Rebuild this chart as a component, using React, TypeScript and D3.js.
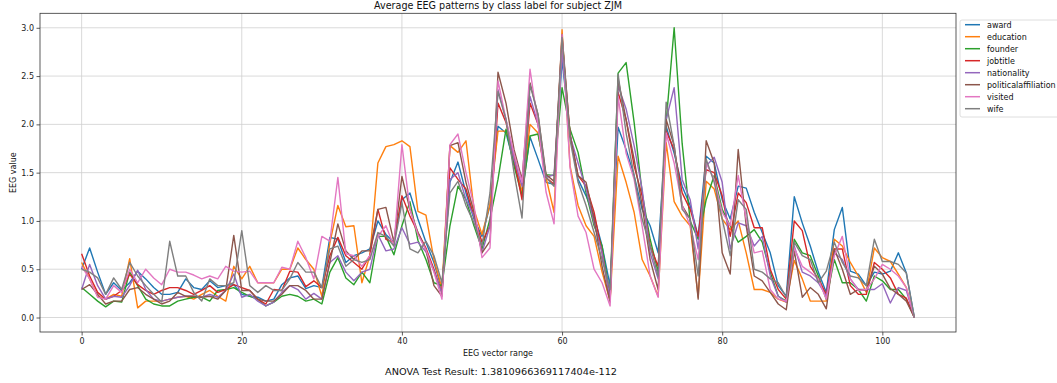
import React, { useRef, useEffect } from 'react';
import * as d3 from 'd3';

const seriesNames: string[] = ['award', 'education', 'founder', 'jobtitle', 'nationality', 'politicalaffiliation', 'visited', 'wife'];
const seriesColors: string[] = ['#1f77b4', '#ff7f0e', '#2ca02c', '#d62728', '#9467bd', '#8c564b', '#e377c2', '#7f7f7f'];

const award: number[] = [
    0.5, 0.72, 0.47, 0.24, 0.36, 0.28, 0.36, 0.48, 0.4, 0.31, 0.24, 0.24, 0.26, 0.4, 0.31, 0.29, 0.38, 0.31, 0.33, 0.34,
    0.24, 0.22, 0.21, 0.17, 0.19, 0.34, 0.41, 0.43, 0.3, 0.33, 0.31, 0.83, 0.81, 0.57, 0.64, 0.67, 0.71, 1.0, 0.86, 0.78,
    1.22, 1.29, 1.02, 0.78, 0.57, 0.29, 1.4, 1.61, 1.29, 1.02, 0.84, 1.16, 1.98, 1.91, 1.6, 1.29, 1.87, 1.64, 1.4, 1.38,
    2.67, 1.9, 1.43, 1.26, 1.05, 0.74, 0.33, 1.97, 1.74, 1.47, 1.12, 0.95, 0.67, 1.98, 1.7, 1.36, 1.16, 0.84, 1.67, 1.6,
    1.22, 1.02, 1.36, 1.34, 1.09, 0.88, 0.67, 0.33, 0.22, 1.25, 0.98, 0.74, 0.47, 0.26, 0.91, 1.14, 0.48, 0.45, 0.33, 0.47,
    0.45, 0.48, 0.67, 0.46, 0.0,
];
const education: number[] = [
    0.57, 0.4, 0.22, 0.19, 0.24, 0.22, 0.61, 0.1, 0.17, 0.17, 0.17, 0.19, 0.21, 0.22, 0.19, 0.24, 0.28, 0.22, 0.17, 0.53,
    0.4, 0.53, 0.36, 0.36, 0.36, 0.5, 0.5, 0.72, 0.6, 0.5, 0.22, 0.77, 1.16, 0.94, 0.95, 0.36, 0.64, 1.6, 1.77, 1.79,
    1.83, 1.77, 1.1, 1.06, 0.6, 0.3, 1.78, 1.71, 1.83, 1.12, 0.86, 1.17, 1.93, 1.93, 1.69, 1.29, 2.0, 1.91, 1.45, 1.09,
    2.98, 1.57, 1.16, 0.95, 0.84, 0.47, 0.17, 1.67, 1.4, 1.09, 0.6, 0.43, 0.22, 1.81, 1.2, 1.05, 0.95, 0.21, 1.41, 1.33,
    1.02, 0.91, 1.0, 0.67, 0.29, 0.29, 0.26, 0.19, 0.16, 0.59, 0.4, 0.17, 0.17, 0.17, 0.81, 0.74, 0.57, 0.43, 0.26, 0.72,
    0.62, 0.58, 0.45, 0.31, 0.0,
];
const founder: number[] = [
    0.31, 0.24, 0.17, 0.11, 0.17, 0.16, 0.47, 0.33, 0.19, 0.14, 0.12, 0.12, 0.17, 0.19, 0.21, 0.21, 0.17, 0.28, 0.29, 0.31,
    0.26, 0.22, 0.19, 0.12, 0.16, 0.22, 0.24, 0.22, 0.17, 0.19, 0.14, 0.47, 0.62, 0.41, 0.34, 0.47, 0.36, 0.84, 0.84, 0.65,
    0.95, 1.2, 0.8, 0.6, 0.36, 0.33, 0.95, 1.36, 1.22, 0.95, 0.71, 1.02, 1.43, 1.95, 1.57, 1.26, 1.88, 1.9, 1.48, 1.47,
    2.38, 1.95, 1.71, 1.29, 0.95, 0.74, 0.22, 2.53, 2.64, 2.02, 1.29, 0.81, 0.47, 2.02, 3.0, 1.8, 1.0, 0.81, 1.22, 1.47,
    1.12, 0.95, 0.78, 0.84, 0.91, 0.78, 0.47, 0.22, 0.17, 0.81, 0.67, 0.64, 0.43, 0.19, 0.6, 0.36, 0.36, 0.29, 0.17, 0.43,
    0.38, 0.29, 0.29, 0.19, 0.0,
];
const jobtitle: number[] = [
    0.66, 0.43, 0.26, 0.19, 0.22, 0.28, 0.45, 0.34, 0.28, 0.24, 0.28, 0.31, 0.31, 0.28, 0.24, 0.28, 0.33, 0.26, 0.29, 0.34,
    0.31, 0.28, 0.19, 0.14, 0.29, 0.28, 0.48, 0.47, 0.32, 0.38, 0.31, 0.64, 0.83, 0.64, 0.57, 0.5, 0.64, 1.12, 0.81, 0.78,
    1.26, 1.05, 0.88, 0.72, 0.5, 0.25, 1.55, 1.43, 1.33, 1.05, 0.78, 0.95, 2.22, 2.02, 1.64, 1.22, 2.22, 2.0, 1.45, 1.38,
    2.88, 1.9, 1.47, 1.36, 1.09, 0.67, 0.19, 2.33, 2.05, 1.57, 1.26, 0.74, 0.53, 1.93, 1.74, 1.29, 1.12, 0.84, 1.53, 1.5,
    1.26, 0.84, 1.29, 1.19, 0.93, 0.93, 0.5, 0.29, 0.19, 1.0, 0.9, 0.53, 0.4, 0.24, 0.71, 0.71, 0.33, 0.24, 0.24, 0.57,
    0.5, 0.41, 0.24, 0.2, 0.0,
];
const nationality: number[] = [
    0.29, 0.55, 0.33, 0.19, 0.22, 0.21, 0.33, 0.49, 0.29, 0.19, 0.17, 0.19, 0.21, 0.22, 0.22, 0.21, 0.24, 0.21, 0.28, 0.45,
    0.21, 0.24, 0.17, 0.12, 0.16, 0.26, 0.33, 0.29, 0.19, 0.25, 0.19, 0.57, 0.64, 0.47, 0.38, 0.47, 0.5, 0.86, 0.69, 0.71,
    0.93, 0.76, 0.78, 0.68, 0.48, 0.25, 1.43, 1.5, 1.22, 1.05, 0.67, 0.95, 2.36, 2.05, 1.64, 1.36, 2.29, 2.0, 1.45, 1.48,
    2.74, 1.88, 1.6, 1.33, 0.98, 0.67, 0.19, 2.4, 2.16, 1.78, 1.33, 0.67, 0.4, 2.05, 2.38, 1.43, 1.22, 0.71, 1.57, 1.66,
    1.4, 0.71, 0.98, 0.95, 0.74, 0.84, 0.43, 0.22, 0.16, 0.74, 0.47, 0.43, 0.36, 0.22, 0.67, 0.6, 0.4, 0.29, 0.29, 0.29,
    0.35, 0.15, 0.31, 0.28, 0.0,
];
const politicalaffiliation: number[] = [
    0.29, 0.34, 0.24, 0.14, 0.17, 0.17, 0.29, 0.31, 0.24, 0.19, 0.14, 0.17, 0.26, 0.22, 0.22, 0.21, 0.22, 0.19, 0.28, 0.85,
    0.28, 0.28, 0.19, 0.17, 0.17, 0.24, 0.33, 0.33, 0.28, 0.19, 0.19, 0.57, 0.97, 0.69, 0.6, 0.69, 0.69, 1.12, 1.14, 0.78,
    1.46, 1.12, 0.88, 0.7, 0.33, 0.22, 1.78, 1.81, 1.4, 1.09, 0.67, 0.79, 2.54, 2.22, 1.74, 1.43, 2.43, 2.1, 1.48, 1.41,
    2.93, 1.88, 1.47, 1.4, 1.02, 0.53, 0.16, 2.47, 2.05, 1.64, 1.16, 0.6, 0.29, 2.05, 1.78, 1.16, 1.02, 0.19, 1.83, 1.6,
    0.67, 0.45, 1.74, 0.95, 0.43, 0.38, 0.26, 0.14, 0.08, 0.69, 0.21, 0.31, 0.24, 0.09, 0.71, 0.5, 0.24, 0.29, 0.28, 0.53,
    0.45, 0.3, 0.24, 0.17, 0.0,
];
const visited: number[] = [
    0.53, 0.4, 0.21, 0.19, 0.33, 0.26, 0.5, 0.36, 0.5, 0.41, 0.34, 0.5, 0.47, 0.47, 0.44, 0.4, 0.43, 0.4, 0.53, 0.48,
    0.47, 0.48, 0.36, 0.36, 0.36, 0.52, 0.5, 0.79, 0.62, 0.4, 0.84, 0.79, 1.45, 0.66, 0.64, 0.53, 0.64, 0.84, 0.95, 0.74,
    1.79, 1.12, 0.86, 0.7, 0.47, 0.19, 1.79, 1.9, 1.5, 1.16, 0.62, 0.72, 2.45, 2.05, 1.7, 1.4, 2.57, 2.0, 1.3, 0.97,
    2.93, 1.55, 1.05, 0.88, 0.5, 0.36, 0.12, 2.29, 1.7, 1.43, 0.95, 0.43, 0.21, 1.91, 1.6, 1.16, 0.95, 0.6, 1.6, 1.43,
    1.09, 0.95, 1.47, 1.02, 0.67, 0.69, 0.29, 0.19, 0.17, 0.72, 0.53, 0.47, 0.4, 0.19, 0.64, 0.84, 0.4, 0.28, 0.29, 0.4,
    0.55, 0.5, 0.43, 0.31, 0.0,
];
const wife: number[] = [
    0.5, 0.47, 0.41, 0.24, 0.41, 0.29, 0.57, 0.43, 0.33, 0.24, 0.16, 0.79, 0.43, 0.43, 0.26, 0.17, 0.4, 0.33, 0.33, 0.36,
    0.9, 0.33, 0.26, 0.33, 0.28, 0.28, 0.4, 0.57, 0.47, 0.47, 0.31, 0.71, 0.74, 0.53, 0.6, 0.57, 0.6, 0.88, 0.84, 0.74,
    1.19, 0.71, 0.67, 0.79, 0.64, 0.36, 1.29, 1.41, 1.16, 0.98, 0.74, 1.29, 2.34, 2.05, 1.5, 1.03, 2.41, 2.1, 1.45, 1.36,
    2.9, 1.84, 1.4, 1.16, 0.88, 0.6, 0.29, 2.52, 1.91, 1.47, 1.02, 0.74, 0.43, 2.23, 1.78, 1.12, 1.02, 0.43, 1.64, 1.4,
    1.02, 0.64, 1.22, 1.12, 0.5, 0.47, 0.4, 0.36, 0.21, 0.78, 0.64, 0.6, 0.36, 0.48, 0.78, 0.57, 0.43, 0.41, 0.33, 0.81,
    0.58, 0.58, 0.55, 0.46, 0.0,
];

const seriesValues: number[][] = [award, education, founder, jobtitle, nationality, politicalaffiliation, visited, wife];

const xTicks: number[] = [0, 20, 40, 60, 80, 100];
const yTicks: number[] = [0, 0.5, 1.0, 1.5, 2.0, 2.5, 3.0];

const titleText = 'Average EEG patterns by class label for subject ZJM';
const anovaText = 'ANOVA Test Result: 1.3810966369117404e-112';

interface IMargin {
    top: number;
    right: number;
    bottom: number;
    left: number;
};

function EEGChart() {
    const d3Container = useRef(null);
    const width: number = 1057;
    const height: number = 383;
    const margin: IMargin = { top: 13.3, right: 101, bottom: 51, left: 40 };
    const font = 'DejaVu Sans, sans-serif';

    useEffect(() => {
        if (!d3Container.current) return;
        const svg: any = d3.select(d3Container.current);
        svg.selectAll('*').remove();

        const n = award.length;
        const x = d3.scaleLinear()
            .domain([-(n - 1) * 0.05, (n - 1) * 1.05])
            .range([margin.left, width - margin.right]);
        const y = d3.scaleLinear()
            .domain([-0.15, 3.15])
            .range([height - margin.bottom, margin.top]);

        // grid
        const grid = svg.append('g').attr('class', 'grid');
        grid.selectAll('line.gx')
            .data(xTicks)
            .join('line')
            .attr('class', 'gx')
            .attr('x1', (d: number) => x(d)).attr('x2', (d: number) => x(d))
            .attr('y1', margin.top).attr('y2', height - margin.bottom)
            .attr('stroke', '#cfcfcf').attr('stroke-width', 0.8);
        grid.selectAll('line.gy')
            .data(yTicks)
            .join('line')
            .attr('class', 'gy')
            .attr('x1', margin.left).attr('x2', width - margin.right)
            .attr('y1', (d: number) => y(d)).attr('y2', (d: number) => y(d))
            .attr('stroke', '#cfcfcf').attr('stroke-width', 0.8);

        // lines
        const line = d3.line<number>()
            .x((_d: number, i: number) => x(i))
            .y((d: number) => y(d));
        svg.append('g')
            .attr('class', 'lines')
            .selectAll('path')
            .data(seriesValues)
            .join('path')
            .attr('d', (d: number[]) => line(d))
            .attr('fill', 'none')
            .attr('stroke', (_d: number[], i: number) => seriesColors[i])
            .attr('stroke-width', 1.4)
            .attr('stroke-linejoin', 'round');

        // axes
        const xAxis = (g: any) => g
            .attr('transform', `translate(0,${height - margin.bottom})`)
            .call(d3.axisBottom(x).tickValues(xTicks).tickFormat(d3.format('d')).tickSize(3.5).tickPadding(2.5))
            .call((g: any) => g.select('.domain').remove());
        const yAxis = (g: any) => g
            .attr('transform', `translate(${margin.left},0)`)
            .call(d3.axisLeft(y).tickValues(yTicks).tickFormat(d3.format('.1f')).tickSize(3.5).tickPadding(2.5))
            .call((g: any) => g.select('.domain').remove());

        svg.append('g').attr('class', 'x-axis').call(xAxis);
        svg.append('g').attr('class', 'y-axis').call(yAxis);
        svg.selectAll('.tick text')
            .attr('font-family', font)
            .attr('font-size', 8)
            .attr('fill', '#222');
        svg.selectAll('.tick line').attr('stroke', '#333').attr('stroke-width', 0.8);

        // frame
        svg.append('rect')
            .attr('x', margin.left).attr('y', margin.top)
            .attr('width', width - margin.right - margin.left)
            .attr('height', height - margin.bottom - margin.top)
            .attr('fill', 'none').attr('stroke', '#333').attr('stroke-width', 0.8);

        const cx = (margin.left + width - margin.right) / 2;
        svg.append('text')
            .attr('x', cx).attr('y', 9)
            .attr('text-anchor', 'middle')
            .attr('font-family', font).attr('font-size', 9.6)
            .attr('fill', '#111')
            .text(titleText);
        svg.append('text')
            .attr('x', cx).attr('y', 356)
            .attr('text-anchor', 'middle')
            .attr('font-family', font).attr('font-size', 8)
            .attr('fill', '#111')
            .text('EEG vector range');
        svg.append('text')
            .attr('transform', `translate(16,${(margin.top + height - margin.bottom) / 2}) rotate(-90)`)
            .attr('text-anchor', 'middle')
            .attr('font-family', font).attr('font-size', 8)
            .attr('fill', '#111')
            .text('EEG value');
        svg.append('text')
            .attr('x', 501).attr('y', 375)
            .attr('text-anchor', 'middle')
            .attr('font-family', font).attr('font-size', 8)
            .attr('textLength', 232)
            .attr('lengthAdjust', 'spacingAndGlyphs')
            .attr('fill', '#111')
            .text(anovaText);

        // legend
        const legend = svg.append('g').attr('transform', `translate(960,20)`);
        legend.append('rect')
            .attr('x', 0).attr('y', 0)
            .attr('width', 110).attr('height', 97)
            .attr('rx', 2)
            .attr('fill', 'white').attr('stroke', '#d6d6d6').attr('stroke-width', 0.8);
        const items = legend.selectAll('g.item')
            .data(seriesNames)
            .join('g')
            .attr('class', 'item')
            .attr('transform', (_d: string, i: number) => `translate(0,${4.7 + i * 12})`);
        items.append('line')
            .attr('x1', 5).attr('x2', 20)
            .attr('y1', 0).attr('y2', 0)
            .attr('stroke', (_d: string, i: number) => seriesColors[i])
            .attr('stroke-width', 1.5);
        items.append('text')
            .attr('x', 27).attr('y', 0)
            .attr('dy', '0.35em')
            .attr('font-family', font).attr('font-size', 8)
            .attr('fill', '#111')
            .text((d: string) => d);
    }, []);

    return (
        <svg
            width={width}
            height={height}
            ref={d3Container}
            style={{ position: 'absolute', left: 0, top: 0, background: 'white' }}
        />
    );
}

export default function App() {
    return <EEGChart />;
}
